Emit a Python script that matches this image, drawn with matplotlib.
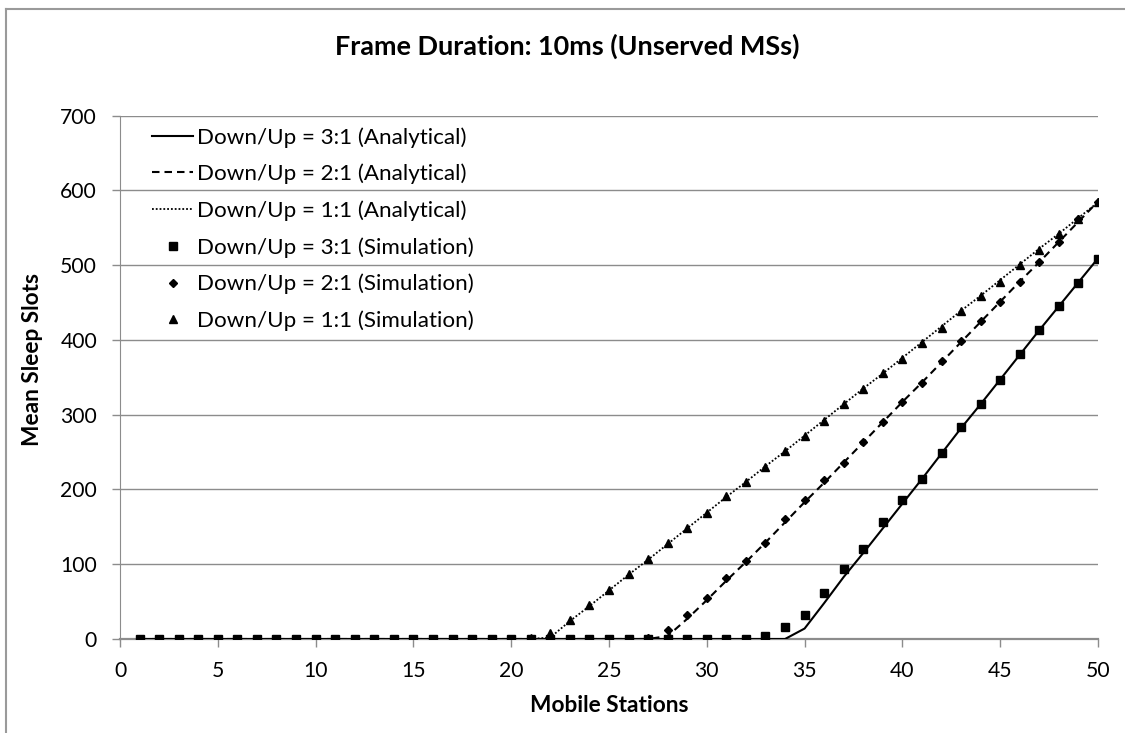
import matplotlib
matplotlib.use("Agg")
import matplotlib.pyplot as plt
from matplotlib.lines import Line2D

plt.rcParams['font.family'] = ['Lato', 'DejaVu Sans']

stations = list(range(1, 51))

ana_31 = [0]*34 + [14, 48, 83, 115, 148, 181, 214, 248, 282, 314, 347, 380,
                   413, 445, 477, 509]
ana_21 = [0]*27 + [4, 27, 52, 78, 103, 129, 156, 183, 209, 236, 263, 290, 317,
                   343, 370, 397, 424, 451, 478, 504, 531, 558, 585]
ana_11 = [0]*21 + [2, 24, 44, 65, 86, 106, 127, 148, 169, 190, 210, 231, 251,
                   272, 293, 314, 335, 355, 376, 397, 418, 439, 459, 480, 501,
                   522, 542, 563, 584]

sim_31 = [0]*32 + [4, 16, 32, 61, 93, 120, 156, 186, 214, 249, 283, 314, 346,
                   381, 413, 445, 476, 508]
sim_21 = [0]*26 + [2, 12, 32, 55, 81, 104, 128, 160, 186, 212, 236, 264, 290,
                   317, 342, 372, 398, 425, 451, 478, 504, 531, 561, 585]
sim_11 = [0]*20 + [2, 8, 26, 45, 66, 87, 107, 128, 148, 169, 191, 210, 230,
                   251, 272, 292, 314, 334, 356, 375, 396, 416, 439, 459, 478,
                   500, 520, 542, 562, 585]

labels = ["Down/Up = 3:1 (Analytical)", "Down/Up = 2:1 (Analytical)",
          "Down/Up = 1:1 (Analytical)", "Down/Up = 3:1 (Simulation)",
          "Down/Up = 2:1 (Simulation)", "Down/Up = 1:1 (Simulation)"]

title = "Frame Duration: 10ms (Unserved MSs)"
xlabel = "Mobile Stations"
ylabel = "Mean Sleep Slots"

W, H = 1125, 733
fig = plt.figure(figsize=(W/100, H/100), dpi=100)
ax = fig.add_axes([120/W, 1-639/H, (1098-120)/W, (639-115.5)/H])
renderer = fig.canvas.get_renderer()


def fit_size(txt, target_px, size0, **kw):
    t = fig.text(0, 0, txt, fontsize=size0, **kw)
    bb = t.get_window_extent(renderer=renderer)
    t.remove()
    return size0 * target_px / bb.width


grid_c = '#8c8c8c'
ax.plot(stations, ana_31, color='black', lw=1.5, label=labels[0], zorder=3)
ax.plot(stations, ana_21, color='black', lw=1.5, ls=(0, (3.6, 2.4)), label=labels[1], zorder=3)
ax.plot(stations, ana_11, color='black', lw=1.3, ls=(0, (1.0, 1.1)), label=labels[2], zorder=3)
ax.plot(stations, sim_31, ls='none', marker='s', ms=5.6, color='black', label=labels[3], zorder=4)
ax.plot(stations, sim_21, ls='none', marker='D', ms=4.0, color='black', label=labels[4], zorder=4)
ax.plot(stations, sim_11, ls='none', marker='^', ms=6.2, color='black', label=labels[5], zorder=4)

ax.set_xlim(0, 50)
ax.set_ylim(0, 700)
ax.set_xticks(range(0, 51, 5))
ax.set_yticks(range(0, 701, 100))
ax.yaxis.grid(True, color=grid_c, lw=1.0, zorder=0)
ax.set_axisbelow(True)
for s in ['top', 'right']:
    ax.spines[s].set_visible(False)
ax.spines['left'].set_color(grid_c)
ax.spines['bottom'].set_color(grid_c)
ax.spines['bottom'].set_linewidth(1.6)
tick_fs = fit_size("700", 37, 15)
ax.tick_params(axis='both', colors=grid_c, labelcolor='black', labelsize=tick_fs,
               length=6, width=1.0)
ax.tick_params(axis='x', pad=10)
ax.tick_params(axis='y', pad=10.5)

title_fs = fit_size(title, 465, 17, fontweight='bold')
fig.text(567/W, 1-46/H, title, ha='center', va='center', fontsize=title_fs, fontweight='bold')

ylab_fs = fit_size(ylabel, 174, 14, fontweight='bold')
fig.text(33/W, 1-360/H, ylabel, ha='center', va='center', rotation=90,
         fontsize=ylab_fs, fontweight='bold')
fig.text(609/W, 1-706/H, xlabel, ha='center', va='center',
         fontsize=ylab_fs, fontweight='bold')

leg_fs = fit_size(labels[0], 268, 14.5)
leg_px = leg_fs * 100 / 72
leg = ax.legend(loc='upper left', bbox_to_anchor=(152/W, 1-127/H),
                bbox_transform=fig.transFigure, frameon=False, fontsize=leg_fs,
                handlelength=41/leg_px, handletextpad=4/leg_px, labelspacing=0.72,
                borderaxespad=0, borderpad=0)

# chart-area border (left and top visible)
fig.add_artist(Line2D([6/W, 6/W], [0, 1-9/H], transform=fig.transFigure, color='#9a9a9a', lw=1.5))
fig.add_artist(Line2D([6/W, 1], [1-9/H, 1-9/H], transform=fig.transFigure, color='#9a9a9a', lw=1.5))

fig.savefig('out.png', dpi=100)
